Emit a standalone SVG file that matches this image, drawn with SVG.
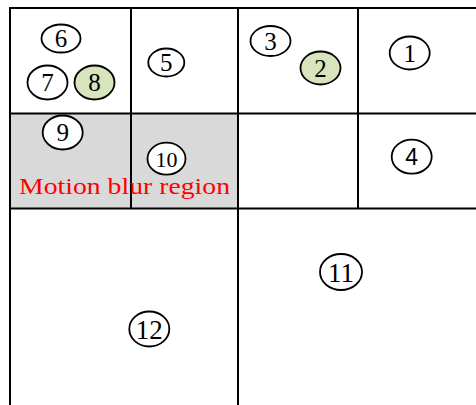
<svg xmlns="http://www.w3.org/2000/svg" width="476" height="405" viewBox="0 0 476 405">
  <style>
    .grid { stroke: #000; stroke-width: 2; fill: none; }
    .node ellipse { stroke: #000; stroke-width: 1.8; fill: #fff; }
    .node.hl ellipse { fill: #d7e4bd; }
    .node text { font-family: "Liberation Serif", "Times New Roman", serif; font-size: 25px; text-anchor: middle; fill: #000; }
    .node text.sans { font-family: "Liberation Sans", Arial, sans-serif; font-size: 23px; }
    .label { font-family: "Liberation Serif", "Times New Roman", serif; font-size: 24px; fill: #ff0000; }
  </style>

  <rect width="476" height="405" fill="#fff"/>

  <!-- shaded region -->
  <rect x="10" y="113.5" width="228" height="95" fill="#d9d9d9"/>

  <!-- grid partition -->
  <g id="grid" class="grid">
    <line x1="9" y1="8" x2="476" y2="8"/>
    <line x1="10" y1="113.5" x2="476" y2="113.5"/>
    <line x1="10" y1="208.5" x2="476" y2="208.5"/>
    <line x1="10" y1="7" x2="10" y2="405"/>
    <line x1="131" y1="8" x2="131" y2="208.5"/>
    <line x1="238" y1="8" x2="238" y2="405"/>
    <line x1="358" y1="8" x2="358" y2="208.5"/>
  </g>

  <g id="n1" class="node"><ellipse cx="409.7" cy="53" rx="20" ry="16.5"/><text x="409.7" y="61.5">1</text></g>
  <g id="n2" class="node hl"><ellipse cx="320.5" cy="68" rx="20" ry="16.5"/><text x="320.5" y="76.5">2</text></g>
  <g id="n3" class="node"><ellipse cx="270.5" cy="41" rx="20" ry="15"/><text x="270.5" y="49.5">3</text></g>
  <g id="n4" class="node"><ellipse cx="411.7" cy="156.7" rx="20" ry="17"/><text class="sans" x="411.7" y="165">4</text></g>
  <g id="n5" class="node"><ellipse cx="166.3" cy="62.5" rx="18" ry="14"/><text x="166.3" y="71">5</text></g>
  <g id="n6" class="node"><ellipse cx="61" cy="38.5" rx="19.5" ry="14"/><text x="61" y="46.5">6</text></g>
  <g id="n7" class="node"><ellipse cx="47.5" cy="82.5" rx="20" ry="17"/><text x="47.5" y="91">7</text></g>
  <g id="n8" class="node hl"><ellipse cx="94.5" cy="82.5" rx="20" ry="17"/><text x="94.5" y="91">8</text></g>
  <g id="n9" class="node"><ellipse cx="62.7" cy="132.5" rx="20" ry="17"/><text x="62.7" y="141">9</text></g>
  <g id="n10" class="node"><ellipse cx="166.5" cy="158.7" rx="19" ry="16"/><text x="166.5" y="166.5" style="font-size:22px">10</text></g>
  <g id="n11" class="node"><ellipse cx="341" cy="272" rx="21" ry="18"/><text x="341" y="281.5" style="font-size:27px">11</text></g>
  <g id="n12" class="node"><ellipse cx="149.3" cy="329" rx="20" ry="17.5"/><text x="149.3" y="338.5" style="font-size:27px">12</text></g>

  <text class="label" x="19" y="193.5" textLength="211" lengthAdjust="spacingAndGlyphs">Motion blur region</text>
</svg>
